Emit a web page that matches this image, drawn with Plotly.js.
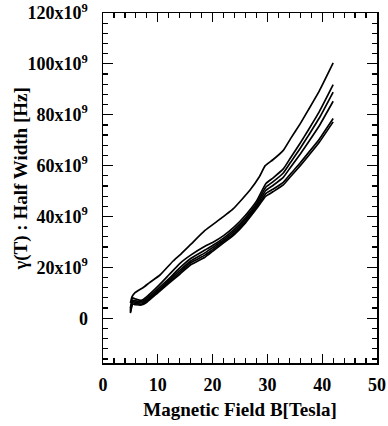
<!DOCTYPE html>
<html><head><meta charset="utf-8">
<script src="https://cdn.plot.ly/plotly-3.0.1.min.js"></script>
<style>html,body{margin:0;padding:0;background:#fff}#plot{width:388px;height:426px}</style>
</head><body><div id="plot"></div>
<script>
// Magnetic field B [Tesla] and half width [units of 1e9 Hz]
var topB = [5.0,5.3,5.8,6.5,7.3,8.5,10.4,12.8,14,16,18.6,20.7,23.8,26.8,28.5,29.6,31,32.9,34.2,36,37.5,39.5,42];
var topW = [6,8.5,10,11,12,14,17,22.5,24.8,29,34.5,37.9,43.1,50.3,55.5,60,62.3,66,70.5,76.5,82,89.5,100.4];

var b1B = [5.0,5.4,6,7,8,10,12,14,16,18.6,20,22,24,26,28,29.7,31,32.9,34.2,36,37.5,39.5,42];
var b1W = [4,8,7.5,7,8.5,12.5,17,21.5,24.8,28.3,29.8,32.5,36,40.5,46,52.9,55.1,58.7,63,68.9,74.1,81.3,91.8];

var b2B = [5.0,5.4,6,7,8,10,12,14,16,18.6,20,22,24,26,28,29.7,31,32.9,34.2,36,37.5,39.5,42];
var b2W = [3.5,7,6.8,6.5,7.8,11.5,15.5,19.8,23.5,26.8,28.6,31.5,35,39.5,45,51.5,53.6,57.1,61.2,66.8,71.9,78.8,88.9];

var b3B = [5.0,5.4,6,7,8,10,12,14,16,18.6,20,22,24,26,28,29.7,31,32.9,34.2,36,37.5,39.5,42];
var b3W = [3,6.5,6.3,6,7.2,10.8,14.8,18.8,22.5,25.7,27.8,30.8,34.2,38.8,44.2,50.2,52.2,55.4,59.3,64.6,69.3,75.8,85.3];

var b4B = [5.0,5.4,6,7,8,10,12,14,16,18.6,20,22,24,26,28,29.7,31,32.9,34.2,36,37.5,39.5,42];
var b4W = [2.5,6,5.8,5.5,6.8,10.4,14.2,18,21.8,24.8,27,30.2,33.5,38,43.5,49,50.7,53.4,56.7,61.1,65.1,70.5,78.5];

var b5B = [5.0,5.4,6,7,8,10,12,14,16,18.6,20,22,24,26,28,29.7,31,32.9,34.2,36,37.5,39.5,42];
var b5W = [2,5.5,5.3,5.2,6.3,10,13.7,17.3,21,24,26.3,29.6,33,37.5,43,48,49.7,52.4,55.6,60,63.9,69.3,77.2];

var yTickVals = [0,20,40,60,80,100,120];
var yTickText = ['0','20x10<sup>9</sup>','40x10<sup>9</sup>','60x10<sup>9</sup>','80x10<sup>9</sup>','100x10<sup>9</sup>','120x10<sup>9</sup>'];

var series = [[topB,topW],[b1B,b1W],[b2B,b2W],[b3B,b3W],[b4B,b4W],[b5B,b5W]];
var traces = series.map(function(s){
  return {x:s[0], y:s[1].map(function(v){return v*1e9;}), type:'scatter', mode:'lines',
    line:{color:'black', width:1.7, shape:'spline', smoothing:0.4}, hoverinfo:'skip', showlegend:false};
});

var F = 'Liberation Serif, Times New Roman, serif';
var layout = {
  width:388, height:426,
  margin:{l:103, r:11, t:13, b:63},
  paper_bgcolor:'white', plot_bgcolor:'white',
  font:{family:F, color:'black', size:18, weight:700},
  xaxis:{range:[0,50], tickvals:[0,10,20,30,40,50], ticks:'inside', ticklen:9, tickwidth:1.2,
    tickcolor:'black', showline:true, linecolor:'black', linewidth:1.5, mirror:'allticks',
    showgrid:false, zeroline:false, ticklabelstandoff:5,
    tickfont:{family:F, size:18, weight:700, color:'black'},
    minor:{dtick:2, tick0:0, ticks:'inside', ticklen:5, tickwidth:1.2, tickcolor:'black', showgrid:false},
    title:{text:'Magnetic Field B[Tesla]', font:{family:F, size:19, weight:700, color:'black'}, standoff:8}},
  yaxis:{range:[-17.6e9,120e9], tickvals:yTickVals.map(function(v){return v*1e9;}), ticktext:yTickText,
    ticks:'inside', ticklen:10, tickwidth:1.2, tickcolor:'black', showline:true, linecolor:'black', linewidth:1.5,
    mirror:'allticks', showgrid:false, zeroline:false, ticklabelstandoff:10,
    tickfont:{family:F, size:18, weight:700, color:'black'},
    minor:{dtick:4e9, tick0:0, ticks:'inside', ticklen:5, tickwidth:1.2, tickcolor:'black', showgrid:false}},
  annotations:[{text:'γ(T) : Half Width [Hz]', xref:'paper', yref:'paper', x:0, y:0.524, xshift:-82,
    xanchor:'center', yanchor:'middle', textangle:-90, showarrow:false,
    font:{family:F, size:19, weight:700, color:'black'}}]
};
Plotly.newPlot('plot', traces, layout, {staticPlot:true, displayModeBar:false});
</script></body></html>
